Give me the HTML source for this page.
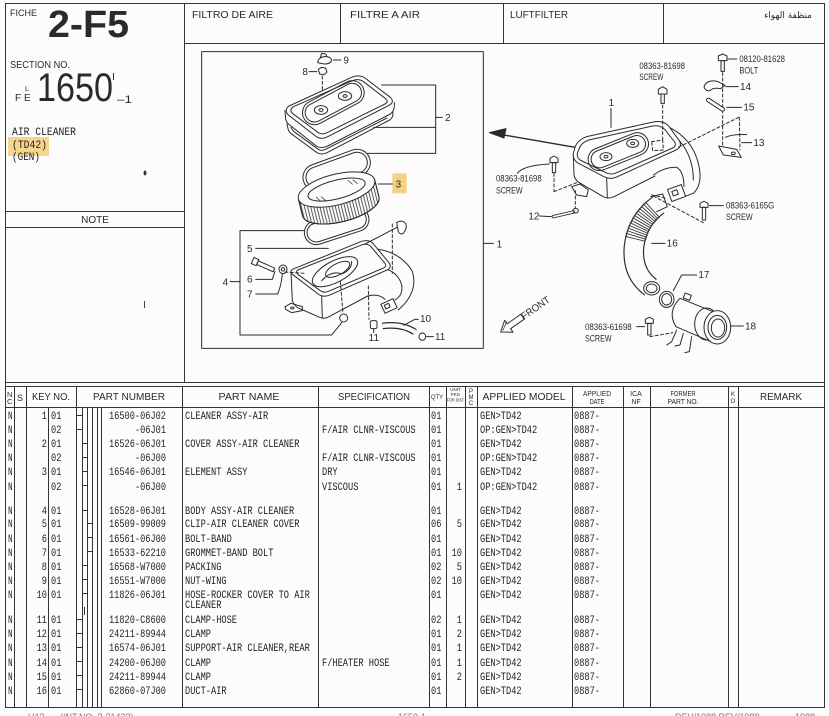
<!DOCTYPE html>
<html><head><meta charset="utf-8"><style>
html,body{margin:0;padding:0;background:#fcfcfc;}
svg{display:block;}
.m{font-family:"Liberation Mono",monospace;font-size:11px;fill:#222;}
.h{font-family:"Liberation Sans",sans-serif;fill:#2a2a2a;}
.d{font-family:"Liberation Sans",sans-serif;fill:#2a2a2a;stroke:none;}
</style></head><body>
<svg width="829" height="716" viewBox="0 0 829 716" xmlns="http://www.w3.org/2000/svg">
<defs>
<pattern id="pleat" width="9" height="30" patternUnits="userSpaceOnUse"><line x1="3" y1="0" x2="3" y2="30" stroke="#3a3a3a" stroke-width="2.5"/></pattern>
</defs>
<rect width="829" height="716" fill="#fcfcfc"/>

<!-- frame lines -->
<g stroke="#333" stroke-width="1" fill="none">
<line x1="5" y1="3.5" x2="825" y2="3.5"/>
<line x1="5.5" y1="3" x2="5.5" y2="707"/>
<line x1="824.5" y1="3" x2="824.5" y2="707"/>
<line x1="184.5" y1="3" x2="184.5" y2="383"/>
<line x1="184" y1="43.5" x2="824" y2="43.5"/>
<line x1="340.5" y1="3" x2="340.5" y2="43"/>
<line x1="503.5" y1="3" x2="503.5" y2="43"/>
<line x1="663.5" y1="3" x2="663.5" y2="43"/>
<line x1="5" y1="211.5" x2="184" y2="211.5"/>
<line x1="5" y1="227.5" x2="184" y2="227.5"/>
<line x1="5" y1="382.5" x2="825" y2="382.5"/>
<line x1="5" y1="386.5" x2="825" y2="386.5"/>
<line x1="5" y1="407.5" x2="825" y2="407.5"/>
<line x1="5" y1="707.5" x2="825" y2="707.5"/>
<!-- table verticals -->
<line x1="14.5" y1="386" x2="14.5" y2="707"/>
<line x1="26.5" y1="386" x2="26.5" y2="707"/>
<line x1="48.5" y1="407" x2="48.5" y2="707"/>
<line x1="76.5" y1="386" x2="76.5" y2="707"/>
<line x1="82.5" y1="407" x2="82.5" y2="707"/>
<line x1="87.5" y1="407" x2="87.5" y2="707"/>
<line x1="92.5" y1="407" x2="92.5" y2="707"/>
<line x1="97.5" y1="407" x2="97.5" y2="707"/>
<line x1="101.5" y1="407" x2="101.5" y2="707"/>
<line x1="182.5" y1="386" x2="182.5" y2="707"/>
<line x1="318.5" y1="386" x2="318.5" y2="707"/>
<line x1="429.5" y1="386" x2="429.5" y2="707"/>
<line x1="446.5" y1="386" x2="446.5" y2="707"/>
<line x1="465.5" y1="386" x2="465.5" y2="707"/>
<line x1="477.5" y1="386" x2="477.5" y2="707"/>
<line x1="572.5" y1="386" x2="572.5" y2="707"/>
<line x1="623.5" y1="386" x2="623.5" y2="707"/>
<line x1="650.5" y1="386" x2="650.5" y2="707"/>
<line x1="728.5" y1="386" x2="728.5" y2="707"/>
<line x1="738.5" y1="386" x2="738.5" y2="707"/>
<!-- level ticks -->
<line x1="76" y1="415.5" x2="82" y2="415.5"/>
<line x1="76" y1="429.5" x2="82" y2="429.5"/>
<line x1="82" y1="443.5" x2="87" y2="443.5"/>
<line x1="82" y1="457.5" x2="87" y2="457.5"/>
<line x1="82" y1="471.5" x2="87" y2="471.5"/>
<line x1="82" y1="485.5" x2="87" y2="485.5"/>
<line x1="82" y1="510.5" x2="87" y2="510.5"/>
<line x1="87" y1="523.5" x2="92" y2="523.5"/>
<line x1="87" y1="537.5" x2="92" y2="537.5"/>
<line x1="87" y1="551.5" x2="92" y2="551.5"/>
<line x1="82" y1="565.5" x2="87" y2="565.5"/>
<line x1="82" y1="579.5" x2="87" y2="579.5"/>
<line x1="82" y1="593.5" x2="87" y2="593.5"/>
<line x1="76" y1="619.5" x2="82" y2="619.5"/>
<line x1="84.5" y1="607" x2="84.5" y2="615"/>
<line x1="76" y1="633.5" x2="82" y2="633.5"/>
<line x1="76" y1="647.5" x2="82" y2="647.5"/>
<line x1="76" y1="661.5" x2="82" y2="661.5"/>
<line x1="76" y1="675.5" x2="82" y2="675.5"/>
<line x1="76" y1="689.5" x2="82" y2="689.5"/>
</g>

<!-- left panel text -->
<text class="h" x="10" y="16" font-size="9">FICHE</text>
<text class="h" x="48" y="37" font-size="38" font-weight="bold" textLength="81" lengthAdjust="spacingAndGlyphs">2-F5</text>
<text class="h" x="10" y="68" font-size="10" textLength="60" lengthAdjust="spacingAndGlyphs">SECTION NO.</text>
<text class="h" x="37" y="101" font-size="40" textLength="76" lengthAdjust="spacingAndGlyphs">1650</text>
<line x1="113.5" y1="73" x2="113.5" y2="80" stroke="#333"/>
<text class="h" x="15" y="101" font-size="10">F</text>
<text class="h" x="24" y="101" font-size="10">E</text>
<text class="h" x="25" y="91" font-size="7">L</text>
<text class="h" x="117" y="103" font-size="11" textLength="15" lengthAdjust="spacingAndGlyphs">–1</text>
<rect x="8" y="137" width="41" height="19" fill="#f6d58e"/>
<text class="m" x="12" y="135" textLength="64" lengthAdjust="spacingAndGlyphs">AIR CLEANER</text>
<text class="m" x="12" y="148" textLength="35" lengthAdjust="spacingAndGlyphs">(TD42)</text>
<text class="m" x="12" y="160" textLength="28" lengthAdjust="spacingAndGlyphs">(GEN)</text>
<ellipse cx="145" cy="173" rx="1.5" ry="2.5" fill="#333"/>
<text class="h" x="95" y="223" font-size="10" text-anchor="middle">NOTE</text>
<line x1="144.5" y1="301" x2="144.5" y2="308" stroke="#444"/>

<!-- top header titles -->
<text class="h" x="192" y="18" font-size="10" textLength="81" lengthAdjust="spacingAndGlyphs">FILTRO DE AIRE</text>
<text class="h" x="350" y="18" font-size="10" textLength="70" lengthAdjust="spacingAndGlyphs">FILTRE A AIR</text>
<text class="h" x="510" y="18" font-size="10" textLength="58" lengthAdjust="spacingAndGlyphs">LUFTFILTER</text>
<text x="812" y="18" font-size="9" text-anchor="end" style="font-family:'DejaVu Sans',sans-serif;fill:#2a2a2a">منظفة الهواء</text>

<!-- table header -->
<text class="h" x="7" y="397" font-size="7.5">N</text>
<text class="h" x="7" y="404" font-size="7.5">C</text>
<text class="h" x="17" y="401" font-size="9">S</text>
<text class="h" x="51" y="400" font-size="10" text-anchor="middle" textLength="38" lengthAdjust="spacingAndGlyphs">KEY NO.</text>
<text class="h" x="129" y="400" font-size="10" text-anchor="middle" textLength="72" lengthAdjust="spacingAndGlyphs">PART NUMBER</text>
<text class="h" x="249" y="400" font-size="10" text-anchor="middle" textLength="61" lengthAdjust="spacingAndGlyphs">PART NAME</text>
<text class="h" x="374" y="400" font-size="10" text-anchor="middle" textLength="72" lengthAdjust="spacingAndGlyphs">SPECIFICATION</text>
<text class="h" x="431" y="399" font-size="6.5" textLength="12" lengthAdjust="spacingAndGlyphs">QTY</text>
<text class="h" x="455.5" y="391" font-size="4.5" text-anchor="middle">UNIT</text>
<text class="h" x="455.5" y="396" font-size="4.5" text-anchor="middle">PKG</text>
<text class="h" x="455.5" y="401.5" font-size="4.5" text-anchor="middle" textLength="17" lengthAdjust="spacingAndGlyphs">FOR DIST</text>
<text class="h" x="471" y="393" font-size="6" text-anchor="middle">P</text>
<text class="h" x="471" y="399" font-size="6" text-anchor="middle">M</text>
<text class="h" x="471" y="405" font-size="6" text-anchor="middle">C</text>
<text class="h" x="524" y="400" font-size="10" text-anchor="middle" textLength="83" lengthAdjust="spacingAndGlyphs">APPLIED MODEL</text>
<text class="h" x="597" y="396" font-size="7" text-anchor="middle" textLength="28" lengthAdjust="spacingAndGlyphs">APPLIED</text>
<text class="h" x="597" y="404" font-size="7" text-anchor="middle" textLength="15" lengthAdjust="spacingAndGlyphs">DATE</text>
<text class="h" x="636" y="396" font-size="7" text-anchor="middle">ICA</text>
<text class="h" x="636" y="404" font-size="7" text-anchor="middle">NF</text>
<text class="h" x="683" y="396" font-size="7" text-anchor="middle" textLength="25" lengthAdjust="spacingAndGlyphs">FORMER</text>
<text class="h" x="683" y="404" font-size="7" text-anchor="middle" textLength="31" lengthAdjust="spacingAndGlyphs">PART NO.</text>
<text class="h" x="733" y="396" font-size="6" text-anchor="middle">K</text>
<text class="h" x="733" y="403" font-size="6" text-anchor="middle">D</text>
<text class="h" x="781" y="400" font-size="10" text-anchor="middle" textLength="42" lengthAdjust="spacingAndGlyphs">REMARK</text>

<!-- table body -->
<g class="m">
<!-- N column -->
<text x="8" y="419" textLength="4.6" lengthAdjust="spacingAndGlyphs">N</text>
<text x="8" y="433" textLength="4.6" lengthAdjust="spacingAndGlyphs">N</text>
<text x="8" y="447" textLength="4.6" lengthAdjust="spacingAndGlyphs">N</text>
<text x="8" y="461" textLength="4.6" lengthAdjust="spacingAndGlyphs">N</text>
<text x="8" y="475" textLength="4.6" lengthAdjust="spacingAndGlyphs">N</text>
<text x="8" y="490" textLength="4.6" lengthAdjust="spacingAndGlyphs">N</text>
<text x="8" y="514" textLength="4.6" lengthAdjust="spacingAndGlyphs">N</text>
<text x="8" y="527" textLength="4.6" lengthAdjust="spacingAndGlyphs">N</text>
<text x="8" y="542" textLength="4.6" lengthAdjust="spacingAndGlyphs">N</text>
<text x="8" y="556" textLength="4.6" lengthAdjust="spacingAndGlyphs">N</text>
<text x="8" y="570" textLength="4.6" lengthAdjust="spacingAndGlyphs">N</text>
<text x="8" y="584" textLength="4.6" lengthAdjust="spacingAndGlyphs">N</text>
<text x="8" y="598" textLength="4.6" lengthAdjust="spacingAndGlyphs">N</text>
<text x="8" y="623" textLength="4.6" lengthAdjust="spacingAndGlyphs">N</text>
<text x="8" y="637" textLength="4.6" lengthAdjust="spacingAndGlyphs">N</text>
<text x="8" y="651" textLength="4.6" lengthAdjust="spacingAndGlyphs">N</text>
<text x="8" y="666" textLength="4.6" lengthAdjust="spacingAndGlyphs">N</text>
<text x="8" y="680" textLength="4.6" lengthAdjust="spacingAndGlyphs">N</text>
<text x="8" y="694" textLength="4.6" lengthAdjust="spacingAndGlyphs">N</text>
<!-- key numbers -->
<text x="47" y="419" text-anchor="end" textLength="5.2" lengthAdjust="spacingAndGlyphs">1</text>
<text x="47" y="447" text-anchor="end" textLength="5.2" lengthAdjust="spacingAndGlyphs">2</text>
<text x="47" y="475" text-anchor="end" textLength="5.2" lengthAdjust="spacingAndGlyphs">3</text>
<text x="47" y="514" text-anchor="end" textLength="5.2" lengthAdjust="spacingAndGlyphs">4</text>
<text x="47" y="527" text-anchor="end" textLength="5.2" lengthAdjust="spacingAndGlyphs">5</text>
<text x="47" y="542" text-anchor="end" textLength="5.2" lengthAdjust="spacingAndGlyphs">6</text>
<text x="47" y="556" text-anchor="end" textLength="5.2" lengthAdjust="spacingAndGlyphs">7</text>
<text x="47" y="570" text-anchor="end" textLength="5.2" lengthAdjust="spacingAndGlyphs">8</text>
<text x="47" y="584" text-anchor="end" textLength="5.2" lengthAdjust="spacingAndGlyphs">9</text>
<text x="47" y="598" text-anchor="end" textLength="10.4" lengthAdjust="spacingAndGlyphs">10</text>
<text x="47" y="623" text-anchor="end" textLength="10.4" lengthAdjust="spacingAndGlyphs">11</text>
<text x="47" y="637" text-anchor="end" textLength="10.4" lengthAdjust="spacingAndGlyphs">12</text>
<text x="47" y="651" text-anchor="end" textLength="10.4" lengthAdjust="spacingAndGlyphs">13</text>
<text x="47" y="666" text-anchor="end" textLength="10.4" lengthAdjust="spacingAndGlyphs">14</text>
<text x="47" y="680" text-anchor="end" textLength="10.4" lengthAdjust="spacingAndGlyphs">15</text>
<text x="47" y="694" text-anchor="end" textLength="10.4" lengthAdjust="spacingAndGlyphs">16</text>
<!-- sub numbers -->
<text x="51" y="419" textLength="10.4" lengthAdjust="spacingAndGlyphs">01</text>
<text x="51" y="433" textLength="10.4" lengthAdjust="spacingAndGlyphs">02</text>
<text x="51" y="447" textLength="10.4" lengthAdjust="spacingAndGlyphs">01</text>
<text x="51" y="461" textLength="10.4" lengthAdjust="spacingAndGlyphs">02</text>
<text x="51" y="475" textLength="10.4" lengthAdjust="spacingAndGlyphs">01</text>
<text x="51" y="490" textLength="10.4" lengthAdjust="spacingAndGlyphs">02</text>
<text x="51" y="514" textLength="10.4" lengthAdjust="spacingAndGlyphs">01</text>
<text x="51" y="527" textLength="10.4" lengthAdjust="spacingAndGlyphs">01</text>
<text x="51" y="542" textLength="10.4" lengthAdjust="spacingAndGlyphs">01</text>
<text x="51" y="556" textLength="10.4" lengthAdjust="spacingAndGlyphs">01</text>
<text x="51" y="570" textLength="10.4" lengthAdjust="spacingAndGlyphs">01</text>
<text x="51" y="584" textLength="10.4" lengthAdjust="spacingAndGlyphs">01</text>
<text x="51" y="598" textLength="10.4" lengthAdjust="spacingAndGlyphs">01</text>
<text x="51" y="623" textLength="10.4" lengthAdjust="spacingAndGlyphs">01</text>
<text x="51" y="637" textLength="10.4" lengthAdjust="spacingAndGlyphs">01</text>
<text x="51" y="651" textLength="10.4" lengthAdjust="spacingAndGlyphs">01</text>
<text x="51" y="666" textLength="10.4" lengthAdjust="spacingAndGlyphs">01</text>
<text x="51" y="680" textLength="10.4" lengthAdjust="spacingAndGlyphs">01</text>
<text x="51" y="694" textLength="10.4" lengthAdjust="spacingAndGlyphs">01</text>
<!-- part numbers -->
<text x="166" y="419" text-anchor="end" textLength="57" lengthAdjust="spacingAndGlyphs">16500-06J02</text>
<text x="166" y="433" text-anchor="end" textLength="31" lengthAdjust="spacingAndGlyphs">-06J01</text>
<text x="166" y="447" text-anchor="end" textLength="57" lengthAdjust="spacingAndGlyphs">16526-06J01</text>
<text x="166" y="461" text-anchor="end" textLength="31" lengthAdjust="spacingAndGlyphs">-06J00</text>
<text x="166" y="475" text-anchor="end" textLength="57" lengthAdjust="spacingAndGlyphs">16546-06J01</text>
<text x="166" y="490" text-anchor="end" textLength="31" lengthAdjust="spacingAndGlyphs">-06J00</text>
<text x="166" y="514" text-anchor="end" textLength="57" lengthAdjust="spacingAndGlyphs">16528-06J01</text>
<text x="166" y="527" text-anchor="end" textLength="57" lengthAdjust="spacingAndGlyphs">16509-99009</text>
<text x="166" y="542" text-anchor="end" textLength="57" lengthAdjust="spacingAndGlyphs">16561-06J00</text>
<text x="166" y="556" text-anchor="end" textLength="57" lengthAdjust="spacingAndGlyphs">16533-62210</text>
<text x="166" y="570" text-anchor="end" textLength="57" lengthAdjust="spacingAndGlyphs">16568-W7000</text>
<text x="166" y="584" text-anchor="end" textLength="57" lengthAdjust="spacingAndGlyphs">16551-W7000</text>
<text x="166" y="598" text-anchor="end" textLength="57" lengthAdjust="spacingAndGlyphs">11826-06J01</text>
<text x="166" y="623" text-anchor="end" textLength="57" lengthAdjust="spacingAndGlyphs">11820-C8600</text>
<text x="166" y="637" text-anchor="end" textLength="57" lengthAdjust="spacingAndGlyphs">24211-89944</text>
<text x="166" y="651" text-anchor="end" textLength="57" lengthAdjust="spacingAndGlyphs">16574-06J01</text>
<text x="166" y="666" text-anchor="end" textLength="57" lengthAdjust="spacingAndGlyphs">24200-06J00</text>
<text x="166" y="680" text-anchor="end" textLength="57" lengthAdjust="spacingAndGlyphs">24211-89944</text>
<text x="166" y="694" text-anchor="end" textLength="57" lengthAdjust="spacingAndGlyphs">62860-07J00</text>
<!-- part names -->
<text x="185" y="419" textLength="83.2" lengthAdjust="spacingAndGlyphs">CLEANER ASSY-AIR</text>
<text x="185" y="447" textLength="114.4" lengthAdjust="spacingAndGlyphs">COVER ASSY-AIR CLEANER</text>
<text x="185" y="475" textLength="62.4" lengthAdjust="spacingAndGlyphs">ELEMENT ASSY</text>
<text x="185" y="514" textLength="109.2" lengthAdjust="spacingAndGlyphs">BODY ASSY-AIR CLEANER</text>
<text x="185" y="527" textLength="114.4" lengthAdjust="spacingAndGlyphs">CLIP-AIR CLEANER COVER</text>
<text x="185" y="542" textLength="46.8" lengthAdjust="spacingAndGlyphs">BOLT-BAND</text>
<text x="185" y="556" textLength="88.4" lengthAdjust="spacingAndGlyphs">GROMMET-BAND BOLT</text>
<text x="185" y="570" textLength="36.4" lengthAdjust="spacingAndGlyphs">PACKING</text>
<text x="185" y="584" textLength="41.6" lengthAdjust="spacingAndGlyphs">NUT-WING</text>
<text x="185" y="598" textLength="124.8" lengthAdjust="spacingAndGlyphs">HOSE-ROCKER COVER TO AIR</text>
<text x="185" y="608" textLength="36.4" lengthAdjust="spacingAndGlyphs">CLEANER</text>
<text x="185" y="623" textLength="52" lengthAdjust="spacingAndGlyphs">CLAMP-HOSE</text>
<text x="185" y="637" textLength="26" lengthAdjust="spacingAndGlyphs">CLAMP</text>
<text x="185" y="651" textLength="124.8" lengthAdjust="spacingAndGlyphs">SUPPORT-AIR CLEANER,REAR</text>
<text x="185" y="666" textLength="26" lengthAdjust="spacingAndGlyphs">CLAMP</text>
<text x="185" y="680" textLength="26" lengthAdjust="spacingAndGlyphs">CLAMP</text>
<text x="185" y="694" textLength="41.6" lengthAdjust="spacingAndGlyphs">DUCT-AIR</text>
<!-- spec -->
<text x="322" y="433" textLength="93.6" lengthAdjust="spacingAndGlyphs">F/AIR CLNR-VISCOUS</text>
<text x="322" y="461" textLength="93.6" lengthAdjust="spacingAndGlyphs">F/AIR CLNR-VISCOUS</text>
<text x="322" y="475" textLength="15.6" lengthAdjust="spacingAndGlyphs">DRY</text>
<text x="322" y="490" textLength="36.4" lengthAdjust="spacingAndGlyphs">VISCOUS</text>
<text x="322" y="666" textLength="67.6" lengthAdjust="spacingAndGlyphs">F/HEATER HOSE</text>
<!-- qty -->
<text x="431" y="419" textLength="10.4" lengthAdjust="spacingAndGlyphs">01</text>
<text x="431" y="433" textLength="10.4" lengthAdjust="spacingAndGlyphs">01</text>
<text x="431" y="447" textLength="10.4" lengthAdjust="spacingAndGlyphs">01</text>
<text x="431" y="461" textLength="10.4" lengthAdjust="spacingAndGlyphs">01</text>
<text x="431" y="475" textLength="10.4" lengthAdjust="spacingAndGlyphs">01</text>
<text x="431" y="490" textLength="10.4" lengthAdjust="spacingAndGlyphs">01</text>
<text x="431" y="514" textLength="10.4" lengthAdjust="spacingAndGlyphs">01</text>
<text x="431" y="527" textLength="10.4" lengthAdjust="spacingAndGlyphs">06</text>
<text x="431" y="542" textLength="10.4" lengthAdjust="spacingAndGlyphs">01</text>
<text x="431" y="556" textLength="10.4" lengthAdjust="spacingAndGlyphs">01</text>
<text x="431" y="570" textLength="10.4" lengthAdjust="spacingAndGlyphs">02</text>
<text x="431" y="584" textLength="10.4" lengthAdjust="spacingAndGlyphs">02</text>
<text x="431" y="598" textLength="10.4" lengthAdjust="spacingAndGlyphs">01</text>
<text x="431" y="623" textLength="10.4" lengthAdjust="spacingAndGlyphs">02</text>
<text x="431" y="637" textLength="10.4" lengthAdjust="spacingAndGlyphs">01</text>
<text x="431" y="651" textLength="10.4" lengthAdjust="spacingAndGlyphs">01</text>
<text x="431" y="666" textLength="10.4" lengthAdjust="spacingAndGlyphs">01</text>
<text x="431" y="680" textLength="10.4" lengthAdjust="spacingAndGlyphs">01</text>
<text x="431" y="694" textLength="10.4" lengthAdjust="spacingAndGlyphs">01</text>
<!-- unit pkg -->
<text x="462" y="490" text-anchor="end" textLength="5.2" lengthAdjust="spacingAndGlyphs">1</text>
<text x="462" y="527" text-anchor="end" textLength="5.2" lengthAdjust="spacingAndGlyphs">5</text>
<text x="462" y="556" text-anchor="end" textLength="10.4" lengthAdjust="spacingAndGlyphs">10</text>
<text x="462" y="570" text-anchor="end" textLength="5.2" lengthAdjust="spacingAndGlyphs">5</text>
<text x="462" y="584" text-anchor="end" textLength="10.4" lengthAdjust="spacingAndGlyphs">10</text>
<text x="462" y="623" text-anchor="end" textLength="5.2" lengthAdjust="spacingAndGlyphs">1</text>
<text x="462" y="637" text-anchor="end" textLength="5.2" lengthAdjust="spacingAndGlyphs">2</text>
<text x="462" y="651" text-anchor="end" textLength="5.2" lengthAdjust="spacingAndGlyphs">1</text>
<text x="462" y="666" text-anchor="end" textLength="5.2" lengthAdjust="spacingAndGlyphs">1</text>
<text x="462" y="680" text-anchor="end" textLength="5.2" lengthAdjust="spacingAndGlyphs">2</text>
<!-- applied model -->
<text x="480" y="419" textLength="41.6" lengthAdjust="spacingAndGlyphs">GEN&gt;TD42</text>
<text x="480" y="433" textLength="57.2" lengthAdjust="spacingAndGlyphs">OP:GEN&gt;TD42</text>
<text x="480" y="447" textLength="41.6" lengthAdjust="spacingAndGlyphs">GEN&gt;TD42</text>
<text x="480" y="461" textLength="57.2" lengthAdjust="spacingAndGlyphs">OP:GEN&gt;TD42</text>
<text x="480" y="475" textLength="41.6" lengthAdjust="spacingAndGlyphs">GEN&gt;TD42</text>
<text x="480" y="490" textLength="57.2" lengthAdjust="spacingAndGlyphs">OP:GEN&gt;TD42</text>
<text x="480" y="514" textLength="41.6" lengthAdjust="spacingAndGlyphs">GEN&gt;TD42</text>
<text x="480" y="527" textLength="41.6" lengthAdjust="spacingAndGlyphs">GEN&gt;TD42</text>
<text x="480" y="542" textLength="41.6" lengthAdjust="spacingAndGlyphs">GEN&gt;TD42</text>
<text x="480" y="556" textLength="41.6" lengthAdjust="spacingAndGlyphs">GEN&gt;TD42</text>
<text x="480" y="570" textLength="41.6" lengthAdjust="spacingAndGlyphs">GEN&gt;TD42</text>
<text x="480" y="584" textLength="41.6" lengthAdjust="spacingAndGlyphs">GEN&gt;TD42</text>
<text x="480" y="598" textLength="41.6" lengthAdjust="spacingAndGlyphs">GEN&gt;TD42</text>
<text x="480" y="623" textLength="41.6" lengthAdjust="spacingAndGlyphs">GEN&gt;TD42</text>
<text x="480" y="637" textLength="41.6" lengthAdjust="spacingAndGlyphs">GEN&gt;TD42</text>
<text x="480" y="651" textLength="41.6" lengthAdjust="spacingAndGlyphs">GEN&gt;TD42</text>
<text x="480" y="666" textLength="41.6" lengthAdjust="spacingAndGlyphs">GEN&gt;TD42</text>
<text x="480" y="680" textLength="41.6" lengthAdjust="spacingAndGlyphs">GEN&gt;TD42</text>
<text x="480" y="694" textLength="41.6" lengthAdjust="spacingAndGlyphs">GEN&gt;TD42</text>
<!-- applied date -->
<text x="574" y="419" textLength="26" lengthAdjust="spacingAndGlyphs">0887-</text>
<text x="574" y="433" textLength="26" lengthAdjust="spacingAndGlyphs">0887-</text>
<text x="574" y="447" textLength="26" lengthAdjust="spacingAndGlyphs">0887-</text>
<text x="574" y="461" textLength="26" lengthAdjust="spacingAndGlyphs">0887-</text>
<text x="574" y="475" textLength="26" lengthAdjust="spacingAndGlyphs">0887-</text>
<text x="574" y="490" textLength="26" lengthAdjust="spacingAndGlyphs">0887-</text>
<text x="574" y="514" textLength="26" lengthAdjust="spacingAndGlyphs">0887-</text>
<text x="574" y="527" textLength="26" lengthAdjust="spacingAndGlyphs">0887-</text>
<text x="574" y="542" textLength="26" lengthAdjust="spacingAndGlyphs">0887-</text>
<text x="574" y="556" textLength="26" lengthAdjust="spacingAndGlyphs">0887-</text>
<text x="574" y="570" textLength="26" lengthAdjust="spacingAndGlyphs">0887-</text>
<text x="574" y="584" textLength="26" lengthAdjust="spacingAndGlyphs">0887-</text>
<text x="574" y="598" textLength="26" lengthAdjust="spacingAndGlyphs">0887-</text>
<text x="574" y="623" textLength="26" lengthAdjust="spacingAndGlyphs">0887-</text>
<text x="574" y="637" textLength="26" lengthAdjust="spacingAndGlyphs">0887-</text>
<text x="574" y="651" textLength="26" lengthAdjust="spacingAndGlyphs">0887-</text>
<text x="574" y="666" textLength="26" lengthAdjust="spacingAndGlyphs">0887-</text>
<text x="574" y="680" textLength="26" lengthAdjust="spacingAndGlyphs">0887-</text>
<text x="574" y="694" textLength="26" lengthAdjust="spacingAndGlyphs">0887-</text>
</g>

<!-- footer (cut off) -->
<g class="h" font-size="9" style="fill:#777">
<text x="28" y="720">H13</text>
<text x="60" y="720">(INT.NO. 2-21422)</text>
<text x="398" y="720">1650-1</text>
<text x="675" y="720">DEV/1988   REV/1988</text>
<text x="795" y="720">1988</text>
</g>

<!-- LEFT DIAGRAM (zoom coords) -->
<g transform="translate(185,40) scale(0.33333)" fill="none" stroke="#2b2b2b" stroke-width="3" stroke-linejoin="round" stroke-linecap="round">
<rect x="50" y="35" width="845" height="890"/>
<line x1="895" y1="610" x2="925" y2="610"/>
<text class="d" x="935" y="622" font-size="30">1</text>

<!-- 9 wing nut -->
<path d="M398,68 Q400,52 418,50 Q436,48 440,60 Q438,72 418,72 Z"/>
<path d="M406,52 L410,40 L422,42 L426,50"/>
<line x1="445" y1="60" x2="468" y2="60"/>
<text class="d" x="475" y="70" font-size="30">9</text>
<!-- 8 nut -->
<path d="M400,88 L410,82 L422,84 L426,96 L418,104 L404,102 Z"/>
<line x1="372" y1="95" x2="396" y2="95"/>
<text class="d" x="352" y="105" font-size="30">8</text>
<line x1="412" y1="108" x2="412" y2="200" stroke-dasharray="9 7"/>

<!-- cover 2 -->
<path d="M306,252 L310,270 Q315,280 328,288 L396,338 Q410,346 426,338 L614,240 Q628,230 622,212"/>
<path d="M318,262 Q322,272 334,280 L400,328 Q410,334 422,328 L606,234"/>
<path d="M300,212 L302,238 Q305,250 318,258 L394,318 Q410,328 428,318 L616,222 Q630,212 628,188" fill="#fcfcfc"/>
<path d="M312,198 L500,112 Q522,102 540,114 L616,172 Q630,186 612,196 L428,290 Q410,300 394,290 L310,225 Q296,210 312,198 Z" fill="#fcfcfc"/>
<path d="M325,200 L502,122 Q520,115 534,124 L602,176 Q612,186 600,192 L426,278 Q412,285 400,278 L322,220 Q312,210 325,200 Z"/>
<g transform="translate(445,188) rotate(-28)"><rect x="-100" y="-36" width="200" height="72" rx="36"/><rect x="-92" y="-28" width="184" height="56" rx="28"/></g>
<ellipse cx="408" cy="210" rx="20" ry="13"/><ellipse cx="408" cy="210" rx="6" ry="4"/>
<ellipse cx="480" cy="168" rx="20" ry="13"/><ellipse cx="480" cy="168" rx="6" ry="4"/>
<polyline points="590,135 752,135 752,340 548,340"/>
<line x1="566" y1="262" x2="752" y2="262"/>
<line x1="752" y1="232" x2="772" y2="232"/>
<text class="d" x="780" y="243" font-size="30">2</text>

<!-- top packing ring -->
<g transform="translate(455,390) rotate(-20)"><rect x="-105" y="-40" width="210" height="80" rx="40"/><rect x="-96" y="-31" width="192" height="62" rx="31"/></g>
<!-- bottom packing ring -->
<g transform="translate(455,558) rotate(-18)"><rect x="-100" y="-36" width="200" height="72" rx="36"/><rect x="-92" y="-28" width="184" height="56" rx="28"/></g>
<!-- element 3 -->
<g transform="rotate(-14 460 470)">
<path d="M342,448 L342,500 A118,46 0 0 0 578,500 L578,448 Z" fill="#fcfcfc"/>
<path d="M342,448 L342,500 A118,46 0 0 0 578,500 L578,448 Z" fill="url(#pleat)"/>
<ellipse cx="460" cy="448" rx="118" ry="46" fill="#fcfcfc"/>
<ellipse cx="460" cy="448" rx="88" ry="28"/>
<path d="M395,455 L405,470 M410,458 L420,472 M500,430 L510,444 M515,432 L525,446" stroke-width="2"/>
</g>
<rect x="622" y="400" width="43" height="60" fill="#f5d283" stroke="none"/>
<line x1="580" y1="432" x2="622" y2="432"/>
<text class="d" x="632" y="443" font-size="30">3</text>

<!-- body 4 -->
<path d="M548,768 Q580,760 600,778"/>
<path d="M560,626 Q640,630 680,690 Q700,740 660,790 L640,810"/>
<path d="M606,688 Q640,700 650,735 Q655,765 630,780"/>
<path d="M318,696 L322,782 Q326,796 340,804 L404,832 Q418,838 432,830 L548,768"/>
<line x1="410" y1="768" x2="412" y2="834"/>
<path d="M322,688 L530,604 Q548,598 562,608 L612,668 Q622,682 606,690 L432,766 Q416,772 402,764 L326,706 Q312,696 322,688 Z" fill="#fcfcfc"/>
<path d="M338,690 L532,614 Q546,610 556,618 L600,670 Q606,678 596,684 L430,754 Q418,760 406,752 L340,704 Q330,696 338,690 Z"/>
<ellipse cx="450" cy="695" rx="75" ry="32" transform="rotate(-28 450 695)"/>
<ellipse cx="458" cy="688" rx="40" ry="17" transform="rotate(-28 458 688)"/>
<path d="M410,722 Q440,690 470,702 Q500,690 500,664"/>
<g transform="rotate(-25 612 798)"><rect x="592" y="783" width="40" height="30" fill="#fcfcfc"/><rect x="600" y="790" width="14" height="12"/></g>
<path d="M300,800 L318,790 L352,800 L352,812 L320,818 L302,808 Z"/>
<ellipse cx="322" cy="804" rx="5" ry="3"/>
<polyline points="358,572 165,572 165,885 440,885 470,848"/>
<line x1="135" y1="725" x2="165" y2="725"/>
<text class="d" x="113" y="736" font-size="30">4</text>
<polyline points="212,625 430,625"/>
<line x1="540" y1="612" x2="636" y2="562"/>
<text class="d" x="186" y="636" font-size="30">5</text>
<path d="M635,548 Q650,538 662,550 Q668,565 655,580 Q645,585 640,575 Z"/>
<line x1="622" y1="552" x2="622" y2="700" stroke-dasharray="9 7"/>
<line x1="466" y1="725" x2="474" y2="820" stroke-dasharray="9 7"/>
<line x1="550" y1="738" x2="552" y2="838" stroke-dasharray="9 7"/>
<line x1="300" y1="696" x2="360" y2="700" stroke-dasharray="9 7"/>
<polyline points="212,718 262,718 270,694"/>
<text class="d" x="186" y="728" font-size="30">6</text>
<g transform="rotate(24 238 676)"><rect x="200" y="667" width="16" height="20"/><rect x="216" y="671" width="54" height="12"/></g>
<path d="M212,762 L278,762 Q288,740 292,702"/>
<text class="d" x="186" y="772" font-size="30">7</text>
<ellipse cx="294" cy="688" rx="12" ry="13"/><ellipse cx="294" cy="688" rx="5" ry="5"/>
<ellipse cx="476" cy="834" rx="12" ry="12"/>
<rect x="556" y="842" width="20" height="24" rx="5"/>
<line x1="566" y1="868" x2="566" y2="878"/>
<text class="d" x="551" y="903" font-size="30">11</text>
<path d="M592,858 Q650,850 690,876" stroke="#2b2b2b" stroke-width="20" stroke-linecap="butt"/>
<path d="M592,858 Q650,850 690,876" stroke="#fcfcfc" stroke-width="13" stroke-linecap="butt"/>
<polyline points="656,856 690,838 700,838"/>
<text class="d" x="705" y="846" font-size="30">10</text>
<ellipse cx="712" cy="890" rx="10" ry="11"/>
<line x1="725" y1="890" x2="745" y2="890"/>
<text class="d" x="750" y="900" font-size="30">11</text>
</g>

<!-- RIGHT DIAGRAM (zoom coords) -->
<g transform="translate(480,40) scale(0.33333)" fill="none" stroke="#2b2b2b" stroke-width="3" stroke-linejoin="round" stroke-linecap="round">
<line x1="285" y1="322" x2="60" y2="283" stroke-width="4"/>
<polygon points="28,278 78,266 72,294" fill="#2b2b2b"/>
<text class="d" x="386" y="198" font-size="30">1</text>
<line x1="393" y1="205" x2="393" y2="262"/>

<!-- duct part of main unit -->
<path d="M560,258 Q650,300 660,400 Q662,440 640,460 L612,470"/>
<path d="M520,405 Q555,380 590,382 Q612,395 612,440"/>
<path d="M598,302 Q640,350 640,420"/>
<g transform="rotate(-20 590 460)"><rect x="568" y="440" width="44" height="38" fill="#fcfcfc"/><rect x="578" y="450" width="16" height="14"/></g>
<!-- main walls -->
<path d="M280,345 L282,405 Q285,420 298,428 L370,470 Q385,478 402,470 L525,408"/>
<line x1="380" y1="415" x2="382" y2="474"/>
<path d="M275,440 L300,432 L325,450 L320,470 L290,465 Z"/>
<path d="M285,322 Q292,300 320,290 L520,246 Q548,240 566,258 L598,302 Q608,320 588,330 L412,410 Q392,420 372,410 L292,368 Q278,358 280,340 Z" fill="#fcfcfc"/>
<path d="M298,325 Q304,308 326,300 L518,258 Q540,254 554,268 L584,306 Q590,318 578,324 L410,398 Q394,406 378,398 L300,360 Q290,352 292,340 Z"/>
<g transform="translate(415,335) rotate(-22)"><rect x="-95" y="-34" width="190" height="68" rx="34"/><rect x="-86" y="-26" width="172" height="52" rx="26"/></g>
<ellipse cx="378" cy="350" rx="18" ry="12"/><ellipse cx="378" cy="350" rx="6" ry="4"/>
<ellipse cx="458" cy="310" rx="18" ry="12"/><ellipse cx="458" cy="310" rx="6" ry="4"/>

<!-- top screw -->
<path d="M535,148 L548,140 L561,148 L561,162 L535,162 Z"/>
<rect x="543" y="162" width="10" height="28"/>
<line x1="548" y1="195" x2="548" y2="305" stroke-dasharray="9 7"/>
<path d="M515,305 L548,300 L550,330 L518,332 Z" stroke-dasharray="9 7"/>
<text class="d" x="478" y="87" font-size="27" textLength="137" lengthAdjust="spacingAndGlyphs">08363-81698</text>
<text class="d" x="478" y="120" font-size="27" textLength="72" lengthAdjust="spacingAndGlyphs">SCREW</text>

<!-- bolt -->
<path d="M715,48 L728,42 L741,48 L741,62 L715,62 Z"/>
<rect x="723" y="62" width="10" height="32"/>
<line x1="744" y1="57" x2="770" y2="57"/>
<text class="d" x="778" y="66" font-size="27" textLength="137" lengthAdjust="spacingAndGlyphs">08120-81628</text>
<text class="d" x="778" y="101" font-size="27" textLength="57" lengthAdjust="spacingAndGlyphs">BOLT</text>
<line x1="728" y1="98" x2="728" y2="320" stroke-dasharray="9 7"/>
<!-- 14 -->
<path d="M672,140 Q680,118 712,124 L735,136 L722,146 Q698,142 690,152 Q676,155 672,140 Z"/>
<line x1="737" y1="140" x2="775" y2="140"/>
<text class="d" x="780" y="150" font-size="30">14</text>
<!-- 15 -->
<path d="M685,180 L728,208" stroke-width="14"/>
<path d="M685,180 L728,208" stroke="#fcfcfc" stroke-width="8"/>
<line x1="740" y1="202" x2="785" y2="202"/>
<text class="d" x="790" y="212" font-size="30">15</text>
<!-- 13 -->
<line x1="778" y1="232" x2="780" y2="330" stroke-dasharray="9 7"/>
<line x1="776" y1="232" x2="595" y2="322" stroke-dasharray="9 7"/>
<path d="M736,292 Q760,282 800,284"/>
<path d="M716,318 L770,328 L784,352 L730,345 Z"/>
<ellipse cx="760" cy="340" rx="6" ry="4"/>
<line x1="785" y1="308" x2="815" y2="308"/>
<text class="d" x="820" y="318" font-size="30">13</text>

<!-- left screw -->
<path d="M210,355 L222,348 L234,355 L234,368 L210,368 Z"/>
<rect x="217" y="368" width="10" height="30"/>
<path d="M112,400 Q130,376 208,372"/>
<text class="d" x="48" y="425" font-size="27" textLength="137" lengthAdjust="spacingAndGlyphs">08363-81698</text>
<text class="d" x="48" y="460" font-size="27" textLength="80" lengthAdjust="spacingAndGlyphs">SCREW</text>
<line x1="222" y1="400" x2="222" y2="455" stroke-dasharray="9 7"/>
<line x1="222" y1="455" x2="290" y2="428" stroke-dasharray="9 7"/>
<!-- 12 -->
<path d="M220,530 L280,516" stroke-width="10"/>
<path d="M220,530 L280,516" stroke="#fcfcfc" stroke-width="5"/>
<ellipse cx="287" cy="512" rx="8" ry="7"/>
<line x1="286" y1="452" x2="286" y2="504" stroke-dasharray="9 7"/>
<line x1="178" y1="528" x2="214" y2="530"/>
<text class="d" x="145" y="538" font-size="30">12</text>

<!-- 6165G screw -->
<path d="M660,490 L672,484 L684,490 L684,502 L660,502 Z"/>
<rect x="667" y="502" width="10" height="38"/>
<line x1="688" y1="497" x2="730" y2="497"/>
<text class="d" x="738" y="506" font-size="27" textLength="145" lengthAdjust="spacingAndGlyphs">08363-6165G</text>
<text class="d" x="738" y="540" font-size="27" textLength="80" lengthAdjust="spacingAndGlyphs">SCREW</text>
<line x1="670" y1="548" x2="516" y2="466" stroke-dasharray="9 7"/>

<!-- duct 16 -->
<path d="M535,495 Q472,540 462,620 Q455,700 512,742" stroke="#2b2b2b" stroke-width="62" stroke-linecap="butt"/>
<path d="M535,495 Q472,540 462,620 Q455,700 512,742" stroke="#fcfcfc" stroke-width="55" stroke-linecap="butt"/>
<g stroke-width="2.5">
<line x1="496" y1="486" x2="538" y2="532"/>
<line x1="490" y1="492" x2="534" y2="537"/>
<line x1="484" y1="499" x2="530" y2="541"/>
<line x1="478" y1="505" x2="526" y2="545"/>
<line x1="473" y1="512" x2="522" y2="550"/>
<line x1="468" y1="519" x2="518" y2="554"/>
<line x1="463" y1="526" x2="515" y2="559"/>
<line x1="458" y1="533" x2="512" y2="564"/>
<line x1="454" y1="541" x2="509" y2="570"/>
<line x1="450" y1="548" x2="506" y2="575"/>
<line x1="447" y1="556" x2="504" y2="580"/>
<line x1="444" y1="564" x2="502" y2="586"/>
<line x1="441" y1="572" x2="500" y2="592"/>
<line x1="438" y1="580" x2="498" y2="598"/>
<line x1="436" y1="589" x2="496" y2="604"/>
</g>
<path d="M512,470 L548,462 L562,500 L530,515"/>
<path d="M515,465 L560,475" stroke-dasharray="9 7"/>
<ellipse cx="515" cy="745" rx="24" ry="20" fill="#fcfcfc"/>
<ellipse cx="515" cy="745" rx="16" ry="13"/>
<line x1="515" y1="610" x2="555" y2="610"/>
<text class="d" x="560" y="620" font-size="30">16</text>
<!-- 17 -->
<ellipse cx="560" cy="778" rx="22" ry="24"/>
<ellipse cx="560" cy="778" rx="15" ry="17"/>
<polyline points="580,752 605,705 650,705"/>
<text class="d" x="655" y="714" font-size="30">17</text>
<!-- 18 -->
<path d="M600,775 L700,815"/>
<path d="M588,860 L700,908"/>
<path d="M600,775 Q560,815 588,860"/>
<rect x="612" y="762" width="20" height="16" transform="rotate(20 622 770)"/>
<ellipse cx="680" cy="852" rx="36" ry="48"/>
<ellipse cx="712" cy="862" rx="40" ry="50" fill="#fcfcfc"/>
<ellipse cx="712" cy="862" rx="28" ry="36"/>
<ellipse cx="714" cy="864" rx="20" ry="27"/>
<path d="M590,870 L575,905 L560,915 M610,880 L600,915 L585,918 M635,890 L628,935 L615,938"/>
<line x1="752" y1="858" x2="790" y2="858"/>
<text class="d" x="795" y="868" font-size="30">18</text>
<!-- bottom screw -->
<path d="M496,838 L508,832 L520,838 L520,850 L496,850 Z"/>
<rect x="503" y="850" width="10" height="35"/>
<line x1="470" y1="860" x2="494" y2="860"/>
<text class="d" x="315" y="870" font-size="27" textLength="140" lengthAdjust="spacingAndGlyphs">08363-61698</text>
<text class="d" x="315" y="905" font-size="27" textLength="80" lengthAdjust="spacingAndGlyphs">SCREW</text>
<line x1="510" y1="890" x2="578" y2="878" stroke-dasharray="9 7"/>
<!-- FRONT -->
<g transform="translate(62,876) rotate(-35)">
<polygon points="0,0 30,-22 30,-9 80,-9 80,9 30,9 30,22" fill="#fcfcfc"/>
<polyline points="8,0 32,-15" stroke-width="2"/>
</g>
<text class="d" font-size="30" transform="translate(132,840) rotate(-35)" textLength="98" lengthAdjust="spacingAndGlyphs">FRONT</text>
</g>

</svg>
</body></html>
